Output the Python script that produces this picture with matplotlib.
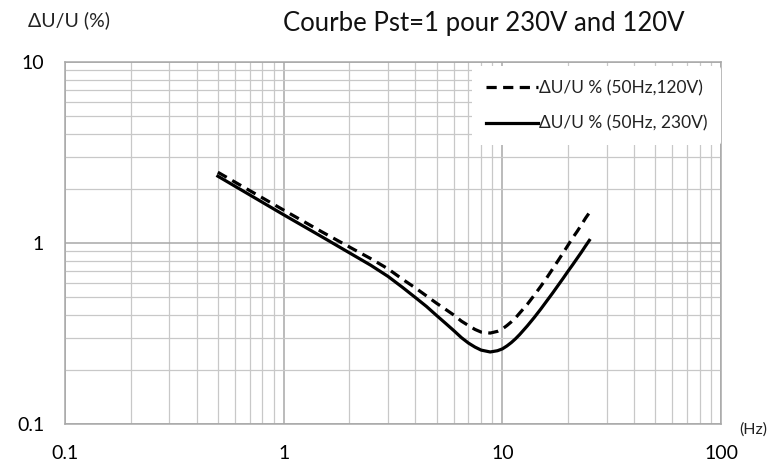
import matplotlib
matplotlib.use("Agg")
import matplotlib.pyplot as plt
from matplotlib.ticker import LogLocator, FixedLocator, FixedFormatter, NullFormatter

plt.rcParams['font.family'] = ['Lato', 'DejaVu Sans']

# Frequencies (Hz)
freq = [0.5, 1, 1.5, 2, 2.5, 3, 3.5, 4, 4.5, 5, 5.5, 6, 6.5, 7, 7.5, 8, 8.8,
        9.5, 10, 10.5, 11, 11.5, 12, 13, 14, 15, 16, 17, 18, 19, 20, 21, 22,
        23, 24, 25]
# dU/U % for 50 Hz, 230 V (solid)
du_230 = [2.34, 1.432, 1.08, 0.882, 0.754, 0.654, 0.568, 0.50, 0.446, 0.398,
          0.36, 0.328, 0.30, 0.28, 0.266, 0.256, 0.25, 0.254, 0.26, 0.27,
          0.282, 0.296, 0.312, 0.348, 0.388, 0.432, 0.48, 0.53, 0.584, 0.64,
          0.70, 0.76, 0.824, 0.89, 0.962, 1.034]
# dU/U % for 50 Hz, 120 V (dashed)
du_120 = [2.46, 1.52, 1.15, 0.95, 0.82, 0.72, 0.63, 0.565, 0.51, 0.465,
          0.43, 0.40, 0.37, 0.35, 0.333, 0.322, 0.318, 0.325, 0.335, 0.35,
          0.367, 0.386, 0.41, 0.458, 0.515, 0.577, 0.645, 0.72, 0.80, 0.885,
          0.975, 1.07, 1.16, 1.26, 1.37, 1.47]

x_ticks = [0.1, 1, 10, 100]
x_labels = ['0.1', '1', '10', '100']
y_ticks = [0.1, 1, 10]
y_labels = ['0.1', '1', '10']

label_120 = 'ΔU/U % (50Hz,120V)'
label_230 = 'ΔU/U % (50Hz, 230V)'

fig = plt.figure(figsize=(7.68, 4.67), dpi=100)
ax = fig.add_axes([65/768, 1-424/467, (721-65)/768, (424-62)/467])

ax.set_xscale('log')
ax.set_yscale('log')
ax.set_xlim(0.1, 100)
ax.set_ylim(0.1, 10)

ax.plot(freq, du_120, color='black', lw=2.3, linestyle=(0, (3.2, 2.0)),
        label=label_120, solid_capstyle='butt', dash_capstyle='butt', zorder=3)
ax.plot(freq, du_230, color='black', lw=2.3, label=label_230, zorder=3)

ax.xaxis.set_major_locator(FixedLocator(x_ticks))
ax.xaxis.set_major_formatter(FixedFormatter(x_labels))
ax.yaxis.set_major_locator(FixedLocator(y_ticks))
ax.yaxis.set_major_formatter(FixedFormatter(y_labels))
ax.xaxis.set_minor_locator(LogLocator(base=10, subs=range(2, 10)))
ax.yaxis.set_minor_locator(LogLocator(base=10, subs=range(2, 10)))
ax.xaxis.set_minor_formatter(NullFormatter())
ax.yaxis.set_minor_formatter(NullFormatter())

ax.grid(True, which='major', color='#a8a8a8', lw=1.1)
ax.grid(True, which='minor', color='#c8c8c8', lw=0.9)
ax.set_axisbelow(True)

ax.tick_params(which='both', length=0)
ax.tick_params(axis='x', which='major', pad=15, labelsize=14)
ax.tick_params(axis='y', which='major', pad=15, labelsize=14)

for s in ax.spines.values():
    s.set_color('#a8a8a8')
    s.set_linewidth(1.1)

leg = ax.legend(loc='upper right', bbox_to_anchor=(1.0, 0.988), fontsize=12.5,
                handlelength=3.0, handletextpad=0.05, labelspacing=1.1,
                borderpad=0.8, borderaxespad=0.0, frameon=True,
                facecolor='white', edgecolor='white', framealpha=1.0)
leg.get_frame().set_linewidth(0)
for t in leg.get_texts():
    t.set_color('#222222')

fig.text(484/768, 1-23/467, 'Courbe Pst=1 pour 230V and 120V', ha='center',
         va='center', fontsize=18.5, color='#111111')
fig.text(28/768, 1-20/467, 'ΔU/U (%)', ha='left', va='center', fontsize=14,
         color='#222222')
fig.text(739/768, 1-430/467, '(Hz)', ha='left', va='center', fontsize=11.5,
         color='#222222')

fig.savefig('out.png', dpi=100, facecolor='white')
